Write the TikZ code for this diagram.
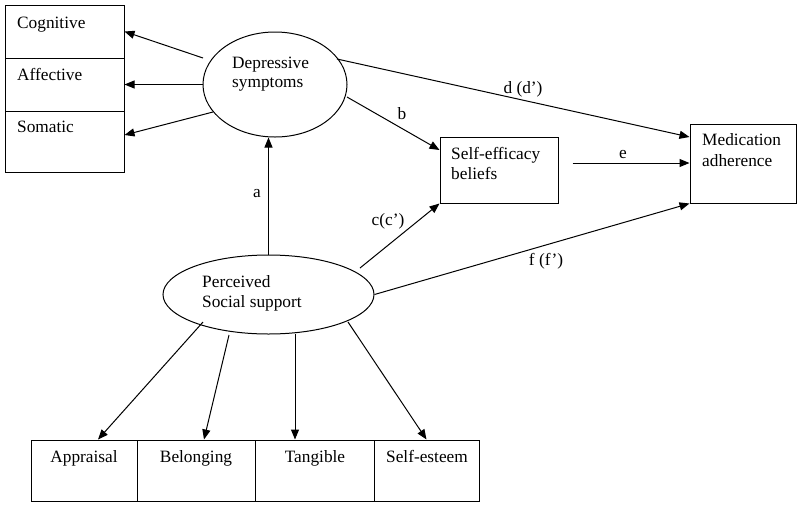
\documentclass[tikz,border=0pt]{standalone}
\usepackage{fontspec}
\setmainfont{Liberation Serif}
\usetikzlibrary{arrows.meta,shapes.geometric,calc}
\begin{document}
\begin{tikzpicture}[x=1pt,y=-1pt,
  every node/.style={font=\fontsize{17.3}{20}\selectfont},
  box/.style={draw,line width=1pt,rectangle,inner sep=0pt},
  lat/.style={draw,line width=1pt,ellipse,inner sep=0pt},
  txt/.style={inner sep=0pt,anchor=base west},
  lbl/.style={inner sep=0pt,anchor=base},
  arr/.style={line width=1pt,-{Triangle[length=10pt,width=8pt]}}]
\useasboundingbox (0,0) rectangle (800,507);
% left indicator stack
\node[box,minimum width=119pt,minimum height=53pt] (cog) at (64.5,31.5) {};
\node[box,minimum width=119pt,minimum height=53pt] (aff) at (64.5,84.5) {};
\node[box,minimum width=119pt,minimum height=61pt] (som) at (64.5,141.5) {};
\node[txt] (cogt) at (17,28) {Cognitive};
\node[txt] (afft) at (17,80) {Affective};
\node[txt] (somt) at (17,132) {Somatic};
% latent variables
\node[lat,minimum width=144pt,minimum height=105pt] (dep) at (275,84.5) {};
\node[txt] (dept1) at (232,68) {Depressive};
\node[txt] (dept2) at (232,87) {symptoms};
\node[lat,minimum width=211pt,minimum height=79pt] (ps) at (268.5,294.5) {};
\node[txt] (pst1) at (202,287) {Perceived};
\node[txt] (pst2) at (202,307) {Social support};
% observed boxes
\node[box,minimum width=118pt,minimum height=66pt] (se) at (499,170) {};
\node[txt] (set1) at (451,159) {Self-efficacy};
\node[txt] (set2) at (451,179) {beliefs};
\node[box,minimum width=106pt,minimum height=79pt] (med) at (743,163.5) {};
\node[txt] (medt1) at (702,145) {Medication};
\node[txt] (medt2) at (702,166) {adherence};
% bottom indicators
\node[box,minimum width=106pt,minimum height=61pt] (app) at (84,470.5) {};
\node[box,minimum width=118pt,minimum height=61pt] (bel) at (196,470.5) {};
\node[box,minimum width=119pt,minimum height=61pt] (tan) at (314.5,470.5) {};
\node[box,minimum width=105pt,minimum height=61pt] (sel) at (426.5,470.5) {};
\node[lbl] (appt) at (84,462) {Appraisal};
\node[lbl] (belt) at (196,462) {Belonging};
\node[lbl] (tant) at (315,462) {Tangible};
\node[lbl] (selt) at (427,462) {Self-esteem};
% depressive indicators
\draw[arr] ([shift={(-72,-26.5)}]dep.center) -- (cog.east);
\draw[arr] (dep.west) -- (aff.east);
\draw[arr] ([shift={(-62,27.5)}]dep.center) -- ([yshift=6.5pt]som.east);
% paths
\draw[arr] ([shift={(62,-25.5)}]dep.center) -- ([yshift=26.5pt]med.west);
\node[lbl] (dl) at (523,93) {d (d’)};
\draw[arr] ([shift={(72,12.5)}]dep.center) -- ([yshift=20pt]se.west);
\node[lbl] (bl) at (402,119) {b};
\draw[arr] ([xshift=14pt,yshift=7pt]se.east) -- ([yshift=0.5pt]med.west);
\node[lbl] (el) at (623,158) {e};
\draw[arr] (ps.north) -- (ps.north |- dep.south);
\node[lbl] (al) at (257,197) {a};
\draw[arr] ([shift={(91.5,-26.5)}]ps.center) -- (se.south west);
\node[lbl] (cl) at (388,225) {c(c’)};
\draw[arr] (ps.east) -- (med.south west);
\node[lbl] (fl) at (546,265) {f (f’)};
% social support indicators
\draw[arr] ([shift={(-65.5,27.5)}]ps.center) -- ([xshift=14pt]app.north);
\draw[arr] ([shift={(-39.5,40.5)}]ps.center) -- ([xshift=8pt]bel.north);
\draw[arr] ([shift={(26.5,39.5)}]ps.center) -- ([xshift=-19.5pt]tan.north);
\draw[arr] ([shift={(79.5,27.5)}]ps.center) -- (sel.north);
\end{tikzpicture}
\end{document}
